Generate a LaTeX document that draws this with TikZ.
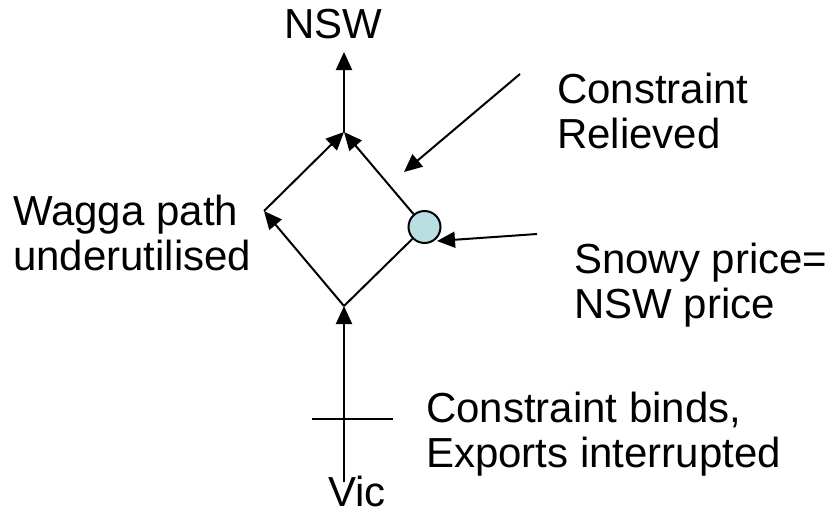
\documentclass[tikz,border=0pt]{standalone}
\usepackage{fontspec}
\setmainfont{Liberation Sans}
\usetikzlibrary{arrows.meta}
\definecolor{snowy}{RGB}{185,223,226}
\begin{document}
\begin{tikzpicture}[x=1pt,y=-1pt,
  line/.style={line width=2pt},
  arr/.style={line width=2pt,-{Triangle[length=18pt,width=16pt]}},
  lbl/.style={font=\fontsize{42}{45}\selectfont,inner sep=0pt,align=left,anchor=north west},
  lbl1/.style={font=\fontsize{42}{45}\selectfont,inner sep=0pt,anchor=base}]
\useasboundingbox[fill=white] (0,0) rectangle (831,514);
% vertices
\coordinate (top) at (344,132);
\coordinate (left) at (264,211);
\coordinate (bot) at (344,306);
\node[circle,draw,line width=2pt,fill=snowy,minimum size=32pt,inner sep=0pt] (circ) at (424.5,227) {};
\coordinate (nswtip) at (344,52);
\coordinate (vicstart) at (344,482);
\coordinate (crossL) at (312,419);
\coordinate (crossR) at (393,419);
\coordinate (relA) at (520,74);
\coordinate (relB) at (404,172);
\coordinate (snA) at (537,234);
\coordinate (snB) at (437,241);
% labels
\node[lbl1] (nsw) at (333.5,38) {NSW};
\node[lbl1] (vic) at (357,506) {Vic};
\node[lbl] (rel) at (557,73) {Constraint\\Relieved};
\node[lbl] (wag) at (13,195) {Wagga path\\underutilised};
\node[lbl] (snow) at (574,243) {Snowy price=\\NSW price};
\node[lbl] (bind) at (426,392) {Constraint binds,\\Exports interrupted};
% connectors
\draw[arr] (bot) -- (left);
\draw[arr] (left) -- (top);
\draw[arr] (circ) -- (top);
\draw[line] (bot) -- (circ);
\draw[arr] (top) -- (nswtip);
\draw[arr] (vicstart) -- (bot);
\draw[line] (crossL) -- (crossR);
\draw[arr] (relA) -- (relB);
\draw[arr] (snA) -- (snB);
\end{tikzpicture}
\end{document}
